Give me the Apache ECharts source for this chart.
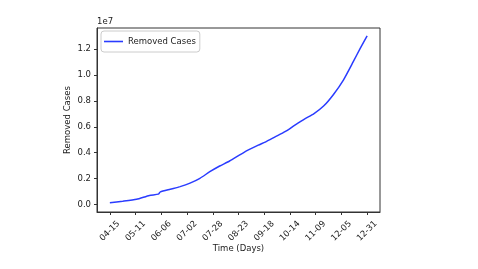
<!DOCTYPE html>
<html><head><meta charset="utf-8">
<script src="https://cdn.jsdelivr.net/npm/echarts@6/dist/echarts.min.js"></script>
<style>html,body{margin:0;padding:0;background:#fff}#c{width:478px;height:269px}</style>
</head><body><div id="c"></div>
<script>
// Dates (2020, MM-DD) of sampled points along the curve
const dates = ['04-15','04-28','05-12','05-25','06-03','06-05','06-15','06-25','07-05','07-15','07-25','08-04','08-14','08-29','09-12','09-19','09-29','10-09','10-19','10-29','11-07','11-17','11-27','12-07','12-17','12-24','12-31'];
// Removed cases
const removed = [140000,250000,400000,700000,800000,970000,1180000,1380000,1650000,2020000,2530000,2970000,3360000,4050000,4580000,4820000,5220000,5620000,6130000,6620000,7000000,7600000,8500000,9610000,11030000,12060000,13030000];
// Tick labels
const xTickLabels = ['04-15','05-11','06-06','07-02','07-28','08-23','09-18','10-14','11-09','12-05','12-31'];
const yTickValues = [0,2000000,4000000,6000000,8000000,10000000,12000000];

const start = Date.UTC(2020,3,15);
function dayIndex(md){const [m,d]=md.split('-').map(Number);return Math.round((Date.UTC(2020,m-1,d)-start)/86400000);}
const seriesData = dates.map((d,i)=>[dayIndex(d), removed[i]]);
const xTicks = xTickLabels.map(dayIndex);
const labelByDay = {}; xTickLabels.forEach(l=>labelByDay[dayIndex(l)]=l);

const font = 'DejaVu Sans';
const txt = {fontFamily:font,fontSize:8.5,color:'#222'};
const chart = echarts.init(document.getElementById('c'), null, {renderer:'canvas'});
chart.setOption({
  animation:false,
  backgroundColor:'#fff',
  textStyle:{fontFamily:font},
  grid:{left:97,right:98,top:28,bottom:57,show:true,borderColor:'#333',borderWidth:1,backgroundColor:'transparent'},
  legend:{left:101,top:31,icon:'rect',itemWidth:19,itemHeight:1.6,itemGap:5,padding:[6,4,6,3],
    borderColor:'#ccc',borderWidth:1,borderRadius:3,backgroundColor:'#fff',
    textStyle:txt,data:['Removed Cases']},
  xAxis:{type:'value',min:-13,max:273,
    name:'Time (Days)',nameLocation:'middle',nameGap:32,nameMoveOverlap:false,nameTextStyle:txt,
    axisLine:{show:true,onZero:false,lineStyle:{color:'#333',width:1}},
    axisTick:{show:true,length:3,customValues:xTicks,lineStyle:{color:'#333'}},
    axisLabel:{customValues:xTicks,rotate:45,margin:19,align:'center',verticalAlign:'middle',...txt,
      formatter:v=>labelByDay[v]||''},
    splitLine:{show:false}},
  yAxis:{type:'value',min:-580000,max:13630000,
    name:'Removed Cases',nameLocation:'middle',nameGap:25,nameMoveOverlap:false,nameTextStyle:txt,
    axisLine:{show:true,onZero:false,lineStyle:{color:'#333',width:1}},
    axisTick:{show:true,length:3,customValues:yTickValues,lineStyle:{color:'#333'}},
    axisLabel:{customValues:yTickValues,margin:6,...txt,
      formatter:v=>(v/1e7).toFixed(1)},
    splitLine:{show:false}},
  graphic:[{type:'text',left:97,top:17,style:{text:'1e7',font:'8.5px "DejaVu Sans"',fill:'#222'}}],
  series:[{name:'Removed Cases',type:'line',data:seriesData,symbol:'none',smooth:0.2,
    lineStyle:{color:'#2a3cff',width:1.5},itemStyle:{color:'#2a3cff'}}]
});
</script></body></html>
